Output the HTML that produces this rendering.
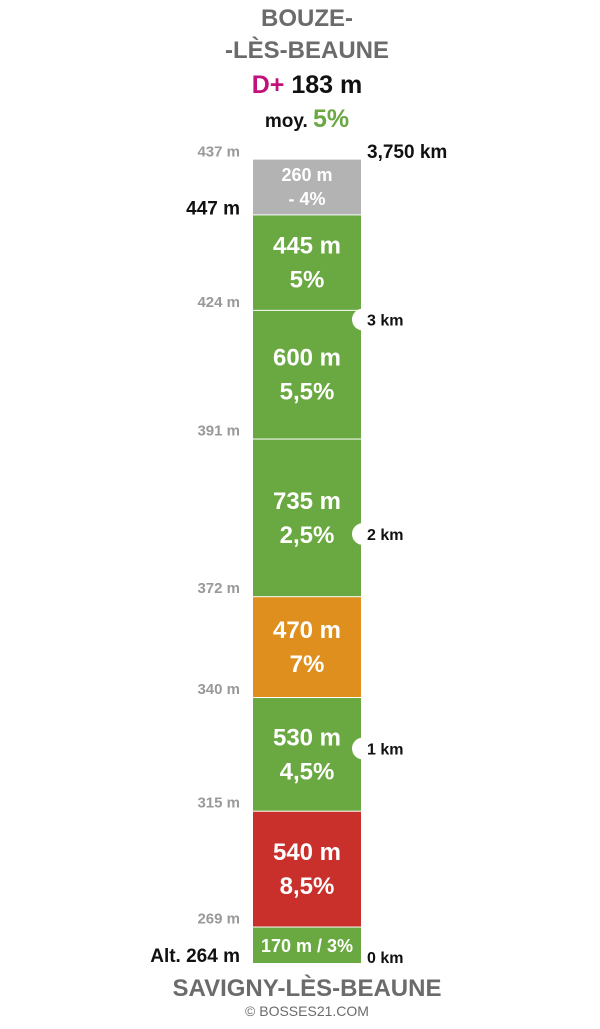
<!DOCTYPE html>
<html><head><meta charset="utf-8">
<style>
html,body{margin:0;padding:0;background:#fff;}
body{width:600px;height:1024px;position:relative;overflow:hidden;font-family:"Liberation Sans Narrow","Liberation Sans",sans-serif;font-weight:bold;}
svg text{font-family:"Liberation Sans Narrow","Liberation Sans",sans-serif;font-weight:bold;}
</style></head>
<body>
<svg id="chart" width="600" height="1024" viewBox="0 0 600 1024" xmlns="http://www.w3.org/2000/svg">
<text x="307" y="26" text-anchor="middle" font-size="24" fill="#6b6b6b">BOUZE-</text>
<text x="307" y="58" text-anchor="middle" font-size="24" fill="#6b6b6b">-LÈS-BEAUNE</text>
<text x="307" y="93" text-anchor="middle" font-size="25"><tspan fill="#c0127a">D+</tspan><tspan fill="#111"> 183 m</tspan></text>
<text x="307" y="127" text-anchor="middle" font-size="19" fill="#111">moy. <tspan fill="#6aa842" font-size="25">5%</tspan></text>
<g id="segs"></g>
<text x="307" y="996" text-anchor="middle" font-size="24" fill="#6b6b6b">SAVIGNY-LÈS-BEAUNE</text>
<text x="307" y="1016" text-anchor="middle" font-size="14" font-weight="normal" fill="#6b6b6b" style="font-weight:normal">© BOSSES21.COM</text>
</svg>
<script>
const lengths=[170,540,530,470,735,600,445,260];
const grades=["3%","8,5%","4,5%","7%","2,5%","5,5%","5%","- 4%"];
const colors=["#6aa842","#c9302c","#6aa842","#de8f1e","#6aa842","#6aa842","#6aa842","#b3b3b3"];
const altitudes=[264,269,315,340,372,391,424,447,437];
const kmTicks=[1,2,3];
const totalKm="3,750 km";
const NS="http://www.w3.org/2000/svg";
const g=document.getElementById('segs');
const y0=963, pxPerM=0.2145, x0=253, w=108;
function yScale(m){return y0-m*pxPerM;}
function mk(tag,attrs){const e=document.createElementNS(NS,tag);for(const k in attrs)e.setAttribute(k,attrs[k]);return e;}
let acc=0;
lengths.forEach((L,i)=>{
  const yb=yScale(acc), yt=yScale(acc+L);
  const r=mk('rect',{x:x0,y:yt+1,width:w,height:yb-yt-1,fill:colors[i]});
  
  
  g.appendChild(r);
  const cy=(yb+yt)/2;
  if(i===0){
    const t=mk('text',{x:x0+w/2,y:cy+7,'text-anchor':'middle','font-size':18,fill:'#fff'});
    t.textContent=L+' m / '+grades[i];
    
    
    g.appendChild(t);
  } else {
    const fs=i===7?18:24, dy=i===7?12:17;
    const t1=mk('text',{x:x0+w/2,y:cy-dy+fs*0.35,'text-anchor':'middle','font-size':fs,fill:'#fff'});
    t1.textContent=L+' m';
    
    
    g.appendChild(t1);
    const t2=mk('text',{x:x0+w/2,y:cy+dy+fs*0.35,'text-anchor':'middle','font-size':fs,fill:'#fff'});
    t2.textContent=grades[i];
    
    
    g.appendChild(t2);
  }
  acc+=L;
});
// altitude labels
acc=0;
altitudes.forEach((a,i)=>{
  let y,fs=15,fill='#999',txt=a+' m',x=240;
  if(i===0){y=y0-1;fs=19;fill='#111';txt='Alt. '+a+' m';}
  else if(i===lengths.length-1){y=yScale(acc)-2;fs=19;fill='#111';}
  else if(i===lengths.length){y=yScale(acc)-2;}
  else {y=yScale(acc)-3;}
  if(i===lengths.length-1){y=yScale(acc)-0;}
  const t=mk('text',{x:x,y:y,'text-anchor':'end','font-size':fs,fill:fill});
  t.textContent=txt;
  
  
  g.appendChild(t);
  if(i<lengths.length)acc+=lengths[i];
});
// km ticks with notches
kmTicks.forEach(k=>{
  const y=yScale(k*1000);
  const c=mk('circle',{cx:x0+w+2,cy:y,r:11,fill:'#fff'});
  
  
  g.appendChild(c);
  const t=mk('text',{x:367,y:y+6,'font-size':16,fill:'#111'});
  t.textContent=k+' km';
  
  
  g.appendChild(t);
});
const z=mk('text',{x:367,y:y0,'font-size':16,fill:'#111'});
z.textContent='0 km';


g.appendChild(z);
const tk=mk('text',{x:367,y:158,'font-size':19,fill:'#111'});
tk.textContent=totalKm;


g.appendChild(tk);
</script>
</body></html>
